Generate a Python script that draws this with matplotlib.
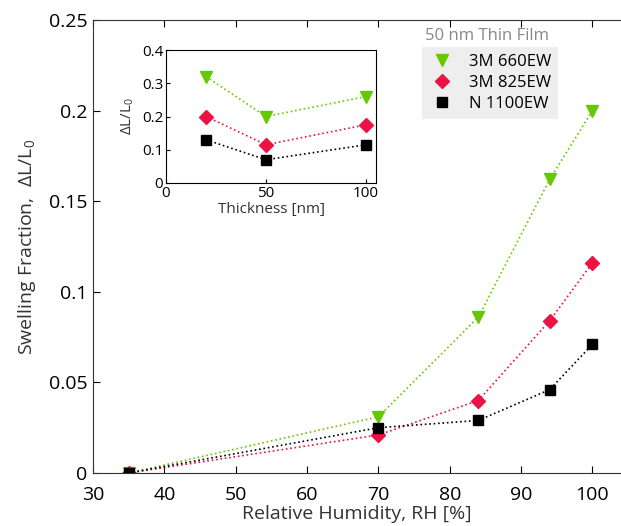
import numpy as np
import matplotlib.pyplot as plt
from matplotlib.lines import Line2D

plt.rcParams['font.family'] = ['Open Sans', 'DejaVu Sans']
plt.rcParams['mathtext.fontset'] = 'custom'
plt.rcParams['mathtext.rm'] = 'Open Sans'
plt.rcParams['mathtext.it'] = 'Open Sans'

rh = [35, 70, 84, 94, 100]
sw_660 = [0.0, 0.031, 0.086, 0.162, 0.200]
sw_825 = [0.0, 0.021, 0.040, 0.084, 0.116]
sw_1100 = [0.0, 0.025, 0.029, 0.046, 0.071]

thick = [20, 50, 100]
th_660 = [0.32, 0.20, 0.26]
th_825 = [0.20, 0.115, 0.175]
th_1100 = [0.13, 0.07, 0.115]

labels = ['3M 660EW', '3M 825EW', 'N 1100EW']
colors = ['#66c800', '#ee1144', 'black']
markers = ['v', 'D', 's']
msizes = [9, 7, 6.5]

fig = plt.figure(figsize=(6.21, 5.26), dpi=100)
ax = fig.add_axes([93 / 621, 53 / 526, 528 / 621, 453 / 526])

for ys, c, m, ms, lab in zip([sw_660, sw_825, sw_1100], colors, markers, msizes, labels):
    ax.plot(rh, ys, ':', color=c, lw=1.2, marker=m, ms=ms, mfc=c, mec=c, label=lab)

ax.set_xlim(30, 104)
ax.set_ylim(0, 0.25)
ax.set_xticks(np.arange(30, 101, 10))
ax.set_yticks([0, 0.05, 0.1, 0.15, 0.2, 0.25])
ax.set_yticklabels(['0', '0.05', '0.1', '0.15', '0.2', '0.25'])
ax.tick_params(direction='in', top=True, right=False, labelsize=14, length=5)
ax.tick_params(axis='x', pad=9)
ax.tick_params(axis='y', pad=4)
ax.spines['right'].set_visible(False)
ax.set_xlabel('Relative Humidity, RH [%]', fontsize=14, color='#333333', labelpad=1)
ax.set_ylabel(r'Swelling Fraction,  $\Delta$L/L$_0$', fontsize=14, color='#333333', labelpad=8)
for s in ax.spines.values():
    s.set_color('#333333')

handles = [Line2D([], [], ls='none', marker=m, ms=ms, color=c) for c, m, ms in zip(colors, markers, msizes)]
leg = ax.legend(handles, labels, loc='upper left', bbox_to_anchor=(0.623, 0.94),
                borderaxespad=0, fontsize=12, frameon=True, facecolor='#eeeeee',
                edgecolor='none', framealpha=1, handletextpad=0.8, borderpad=0.4,
                labelspacing=0.3, handlelength=1.6, fancybox=False)
ax.text(0.629, 0.948, '50 nm Thin Film', transform=ax.transAxes, fontsize=12,
        color='#888888', va='bottom', ha='left')

ins = fig.add_axes([166 / 621, (526 - 183) / 526, 210 / 621, 133 / 526])
for ys, c, m, ms in zip([th_660, th_825, th_1100], colors, markers, msizes):
    ins.plot(thick, ys, ':', color=c, lw=1.2, marker=m, ms=ms, mfc=c, mec=c)
ins.set_xlim(0, 105)
ins.set_ylim(0, 0.4)
ins.set_xticks([0, 50, 100])
ins.set_yticks([0, 0.1, 0.2, 0.3, 0.4])
ins.set_yticklabels(['0', '0.1', '0.2', '0.3', '0.4'])
ins.tick_params(direction='in', labelsize=11, length=3, pad=2)
ins.set_xlabel('Thickness [nm]', fontsize=11, color='#333333', labelpad=1)
ins.set_ylabel(r'$\Delta$L/L$_0$', fontsize=11, color='#333333', labelpad=4)

fig.savefig('out.png', dpi=100)
